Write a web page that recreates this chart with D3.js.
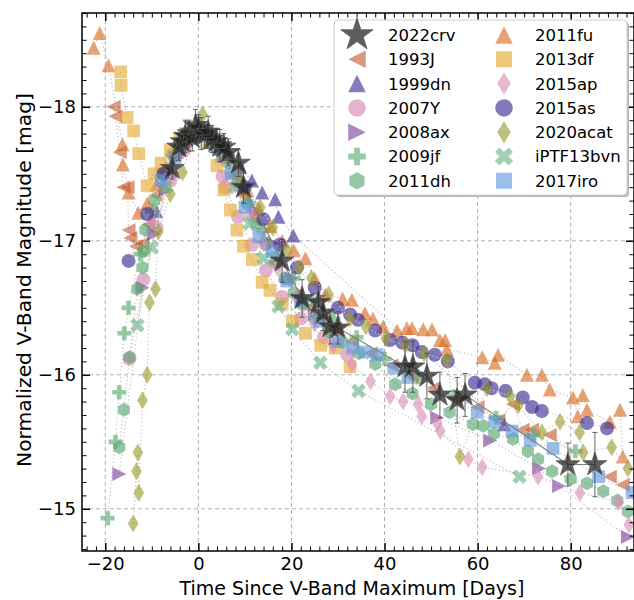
<!DOCTYPE html>
<html>
<head>
<meta charset="utf-8">
<script src="https://cdn.jsdelivr.net/npm/d3@7"></script>
<style>
  body { margin: 0; background: #fff; }
  text { font-family: "DejaVu Sans", sans-serif; }
</style>
</head>
<body>
<svg id="chart" width="634" height="600"></svg>
<script>
// tick values
const xMajor = [-20, 0, 20, 40, 60, 80];
const yMajor = [-18, -17, -16, -15];

// 2022crv (stars, with error bars)
const crvDays = [-5.6, -4.2, -3.5, -2.8, -2.0, -1.3, -0.6, 0.0, 0.6, 1.3, 2.1, 2.9, 3.8, 4.6, 5.5, 6.4, 8.6, 9.7, 18.0, 22.3, 25.8, 26.8, 28.3, 30.0, 44.4, 46.1, 49.1, 51.9, 55.6, 57.3, 79.4, 85.2];
const crvMag = [-17.54, -17.70, -17.74, -17.78, -17.80, -17.77, -17.86, -17.84, -17.80, -17.79, -17.81, -17.76, -17.74, -17.71, -17.70, -17.66, -17.58, -17.40, -16.85, -16.57, -16.54, -16.46, -16.36, -16.35, -16.06, -16.06, -15.99, -15.85, -15.81, -15.85, -15.33, -15.33];
const crvErr = [0.08, 0.10, 0.10, 0.12, 0.10, 0.10, 0.12, 0.10, 0.12, 0.10, 0.12, 0.10, 0.10, 0.12, 0.10, 0.10, 0.10, 0.12, 0.16, 0.14, 0.12, 0.13, 0.13, 0.12, 0.19, 0.19, 0.17, 0.17, 0.17, 0.16, 0.16, 0.24];

const d1993J = [-18.2, -17.8, -16.9, -16.1, -15.2, -15.0, -14.6, -13.4, -12.0, -10.8, -9.2, -7.6, -5.9, -4.1, -2.2, -0.4, 1.6, 3.5, 5.4, 7.4, 9.5, 11.7, 13.9, 16.2, 18.6, 21.1, 23.7, 26.5, 29.6, 33.0, 37.0, 41.5, 46.0, 50.5, 55.0, 60.0, 64.5, 67.6, 69.7, 71.7, 75.5, 88.4, 91.2];
const m1993J = [-18.00, -17.93, -17.66, -17.40, -17.40, -17.08, -17.02, -16.96, -16.98, -17.12, -17.34, -17.52, -17.64, -17.73, -17.79, -17.82, -17.80, -17.74, -17.64, -17.50, -17.34, -17.16, -16.99, -16.84, -16.71, -16.60, -16.50, -16.42, -16.33, -16.25, -16.16, -16.07, -15.98, -15.90, -15.82, -15.76, -15.66, -15.78, -15.59, -15.59, -15.55, -15.24, -15.18];

const d1999dn = [-9.0, -6.0, -3.0, 0.0, 3.0, 6.0, 9.0, 11.5, 13.7, 16.5, 17.2, 20.4, 65.7];
const m1999dn = [-17.22, -17.52, -17.72, -17.81, -17.78, -17.68, -17.55, -17.45, -17.36, -17.31, -17.18, -17.04, -15.63];

const d2007Y = [-14.8, -11.8, -9.0, -6.0, -3.0, 0.0, 3.0, 5.2, 5.8, 8.5, 11.5, 14.5, 18.0, 22.0, 27.0, 32.0];
const m2007Y = [-16.12, -16.71, -17.10, -17.45, -17.68, -17.80, -17.72, -17.48, -17.40, -17.18, -16.97, -16.78, -16.58, -16.42, -16.28, -16.15];

const d2008ax = [-17.0, -12.0, -9.5, -7.0, -4.5, -2.0, 0.5, 3.0, 6.0, 9.0, 12.5, 16.0, 20.0, 25.0, 51.3, 62.7, 73.2, 77.5, 92.3];
const m2008ax = [-15.26, -16.65, -17.05, -17.38, -17.62, -17.76, -17.81, -17.77, -17.63, -17.45, -17.22, -16.98, -16.72, -16.45, -15.68, -15.51, -15.30, -15.17, -14.79];

const d2009jf = [-19.5, -17.8, -17.0, -15.9, -15.0, -12.5, -10.0, -7.5, -5.0, -2.5, 0.0, 2.5, 5.0, 8.0, 11.0, 14.0, 17.0, 20.5, 24.5, 29.0, 34.0, 40.0, 47.0, 55.0, 64.0, 72.0, 81.0];
const m2009jf = [-14.93, -15.50, -15.87, -16.31, -16.50, -16.90, -17.22, -17.48, -17.66, -17.78, -17.82, -17.78, -17.66, -17.48, -17.28, -17.08, -16.90, -16.72, -16.56, -16.42, -16.28, -16.12, -15.98, -15.84, -15.68, -15.55, -15.43];

const d2011dh = [-17.0, -16.0, -14.8, -13.1, -12.0, -11.8, -11.4, -9.5, -7.5, -5.5, -3.5, -1.5, 0.5, 2.5, 4.5, 6.5, 8.5, 10.5, 12.5, 14.5, 16.5, 18.5, 20.5, 22.5, 25.0, 28.0, 31.0, 34.5, 38.0, 42.3, 46.0, 50.0, 54.0, 59.0, 61.2, 63.5, 67.6, 70.8, 73.0, 76.0, 80.0, 83.5, 87.0, 90.0, 92.3];
const m2011dh = [-15.46, -15.74, -16.13, -16.64, -16.80, -16.92, -17.08, -17.30, -17.50, -17.65, -17.75, -17.80, -17.82, -17.78, -17.70, -17.58, -17.44, -17.28, -17.12, -16.97, -16.84, -16.72, -16.61, -16.52, -16.42, -16.32, -16.24, -16.16, -16.08, -15.93, -15.86, -15.78, -15.72, -15.63, -15.62, -15.56, -15.52, -15.43, -15.37, -15.28, -15.22, -15.19, -15.13, -15.06, -14.98];

const d2011fu = [-22.5, -21.2, -19.3, -16.3, -16.2, -15.0, -12.9, -11.0, -9.0, -7.0, -5.0, -3.0, -1.0, 1.0, 3.0, 5.5, 8.0, 10.5, 13.0, 15.5, 18.0, 20.5, 23.0, 25.0, 27.3, 31.0, 33.0, 35.8, 37.5, 39.7, 42.7, 44.8, 45.9, 48.3, 50.2, 51.9, 53.0, 53.4, 61.0, 63.7, 64.4, 70.6, 73.8, 75.5, 80.5, 81.5, 82.6, 83.5, 88.4, 90.6, 91.2];
const m2011fu = [-18.44, -18.55, -18.31, -17.72, -17.57, -17.36, -17.21, -17.28, -17.42, -17.55, -17.66, -17.75, -17.80, -17.81, -17.76, -17.66, -17.52, -17.38, -17.24, -17.11, -17.00, -16.93, -16.87, -16.72, -16.60, -16.57, -16.56, -16.46, -16.42, -16.36, -16.33, -16.35, -16.35, -16.34, -16.34, -16.26, -16.26, -16.19, -16.13, -16.09, -16.15, -16.00, -16.00, -15.89, -15.83, -15.69, -15.85, -15.74, -15.65, -15.74, -15.39];

const d2013df = [-16.7, -16.6, -15.3, -13.9, -12.8, -11.0, -9.5, -8.0, -6.0, -4.0, -2.0, 0.0, 2.0, 4.0, 5.5, 6.9, 8.3, 9.7, 11.6, 13.7, 15.4, 18.0, 20.2, 23.0, 26.3, 29.4, 32.6];
const m2013df = [-18.26, -18.16, -17.92, -17.82, -17.65, -17.41, -17.50, -17.58, -17.68, -17.76, -17.80, -17.80, -17.74, -17.56, -17.38, -17.23, -17.08, -16.96, -16.86, -16.69, -16.63, -16.53, -16.40, -16.31, -16.22, -16.20, -16.06];

const d2015ap = [-10.0, -7.0, -4.0, -1.0, 2.0, 5.0, 8.0, 11.0, 14.0, 17.0, 21.0, 25.0, 29.0, 33.0, 37.0, 41.2, 44.0, 47.2, 48.0, 51.3, 52.0, 58.0, 61.0, 73.0, 82.0, 90.3, 92.5];
const m2015ap = [-17.15, -17.45, -17.70, -17.80, -17.78, -17.62, -17.42, -17.20, -16.98, -16.80, -16.58, -16.38, -16.22, -16.08, -15.95, -15.84, -15.80, -15.78, -15.69, -15.64, -15.58, -15.37, -15.31, -15.24, -15.12, -15.05, -14.88];

const d2015as = [-15.0, -11.0, -7.5, -4.0, -0.5, 3.0, 6.5, 10.0, 14.0, 17.5, 21.2, 25.0, 30.0, 32.6, 34.3, 38.0, 41.2, 43.8, 46.0, 48.0, 50.8, 53.6, 59.4, 61.5, 63.0, 66.0, 69.7, 71.7, 73.8, 83.5, 87.8];
const m2015as = [-16.85, -17.20, -17.50, -17.72, -17.81, -17.78, -17.62, -17.40, -17.16, -16.97, -16.80, -16.65, -16.50, -16.45, -16.41, -16.33, -16.26, -16.24, -16.22, -16.17, -16.15, -16.10, -15.94, -15.93, -15.90, -15.88, -15.83, -15.76, -15.73, -15.64, -15.60];

const d2020acat = [-14.0, -13.3, -13.0, -12.8, -12.0, -11.0, -10.5, -9.2, -8.6, -6.0, -3.4, -1.0, 0.9, 3.0, 6.0, 9.0, 13.3, 16.0, 19.0, 21.7, 24.3, 28.0, 32.6, 36.0, 40.3, 44.5, 48.5, 53.4, 56.2, 62.0, 67.0, 68.7, 73.8, 77.7, 81.9, 82.7, 88.8, 92.3];
const m2020acat = [-14.89, -15.28, -15.42, -15.12, -15.81, -16.00, -16.54, -16.64, -17.07, -17.35, -17.51, -17.78, -17.94, -17.80, -17.62, -17.46, -17.25, -17.10, -16.93, -16.80, -16.72, -16.60, -16.42, -16.36, -16.27, -16.22, -16.16, -16.11, -15.39, -15.90, -15.84, -15.77, -15.57, -15.65, -15.57, -15.42, -15.46, -15.30];

const dPTF = [-13.1, -10.0, -7.0, -4.0, -1.0, 2.0, 5.0, 8.0, 11.0, 14.0, 17.2, 20.2, 26.2, 34.4, 69.0];
const mPTF = [-16.37, -16.95, -17.40, -17.68, -17.80, -17.80, -17.63, -17.40, -17.13, -16.87, -16.51, -16.34, -16.09, -15.88, -15.24];

const d2017iro = [-8.0, -5.0, -2.0, 1.0, 4.0, 7.0, 10.0, 13.0, 15.9, 19.0, 22.0, 26.0, 30.0, 33.2, 35.8, 38.4, 42.0, 45.0, 59.9, 63.7, 67.4, 71.3, 76.2, 86.0, 93.2];
const m2017iro = [-17.45, -17.62, -17.76, -17.80, -17.70, -17.50, -17.25, -17.03, -16.92, -16.70, -16.55, -16.40, -16.25, -16.20, -16.17, -16.15, -16.05, -15.98, -15.72, -15.65, -15.58, -15.51, -15.45, -15.24, -15.12];

const series = [
  { name: "1993J", t: d1993J, m: m1993J, shape: "triLeft", color: "#c55a30" },
  { name: "1999dn", t: d1999dn, m: m1999dn, shape: "triUp", color: "#3a2a95" },
  { name: "2007Y", t: d2007Y, m: m2007Y, shape: "circle", color: "#d584b2" },
  { name: "2008ax", t: d2008ax, m: m2008ax, shape: "triRight", color: "#7c3c9e" },
  { name: "2009jf", t: d2009jf, m: m2009jf, shape: "plus", color: "#56aa6d" },
  { name: "2011dh", t: d2011dh, m: m2011dh, shape: "hexagon", color: "#56a46d" },
  { name: "2011fu", t: d2011fu, m: m2011fu, shape: "triUp", color: "#d86a20" },
  { name: "2013df", t: d2013df, m: m2013df, shape: "square", color: "#e2aa2f" },
  { name: "2015ap", t: d2015ap, m: m2015ap, shape: "diamond", color: "#dc8cb7" },
  { name: "2015as", t: d2015as, m: m2015as, shape: "circle", color: "#352790" },
  { name: "2020acat", t: d2020acat, m: m2020acat, shape: "diamond", color: "#9b9b2f" },
  { name: "iPTF13bvn", t: dPTF, m: mPTF, shape: "xmark", color: "#65b284" },
  { name: "2017iro", t: d2017iro, m: m2017iro, shape: "square", color: "#5d98dc" }
];
const legendCol1 = ["2022crv", "1993J", "1999dn", "2007Y", "2008ax", "2009jf", "2011dh"];
const legendCol2 = ["2011fu", "2013df", "2015ap", "2015as", "2020acat", "iPTF13bvn", "2017iro"];

const svg = d3.select("#chart");
const pL = 82, pR = 634, pT = 13, pB = 551;
const x = d3.scaleLinear().domain([-25, 93.6]).range([pL, pR]);
const y = d3.scaleLinear().domain([-18.7, -14.685]).range([pT, pB]);
const alpha = 0.62;

svg.append("defs").append("clipPath").attr("id", "clip")
  .append("rect").attr("x", pL).attr("y", pT).attr("width", pR - pL).attr("height", pB - pT);

// grid
const grid = svg.append("g").attr("stroke", "#b0b0b0").attr("stroke-width", 1).attr("stroke-dasharray", "4,3");
xMajor.forEach(v => grid.append("line").attr("x1", x(v)).attr("x2", x(v)).attr("y1", pT).attr("y2", pB));
yMajor.forEach(v => grid.append("line").attr("y1", y(v)).attr("y2", y(v)).attr("x1", pL).attr("x2", pR));

function poly(p, pts) {
  p.moveTo(pts[0][0], pts[0][1]);
  for (let i = 1; i < pts.length; i++) p.lineTo(pts[i][0], pts[i][1]);
  p.closePath();
  return p;
}
function shapePath(shape, k) {
  const p = d3.path();
  const s = 7 * k;
  if (shape == "circle") { p.arc(0, 0, s, 0, 2 * Math.PI); }
  else if (shape == "square") { const h = 6.4 * k; p.rect(-h, -h, 2 * h, 2 * h); }
  else if (shape == "triUp") poly(p, [[0, -s], [s, s], [-s, s]]);
  else if (shape == "triLeft") poly(p, [[-s, 0], [s, -s], [s, s]]);
  else if (shape == "triRight") poly(p, [[s, 0], [-s, -s], [-s, s]]);
  else if (shape == "diamond") { const v = 9 * k, h = 5.4 * k; poly(p, [[0, -v], [h, 0], [0, v], [-h, 0]]); }
  else if (shape == "hexagon") {
    const pts = d3.range(6).map(i => [s * Math.cos(-Math.PI / 2 + i * Math.PI / 3), s * Math.sin(-Math.PI / 2 + i * Math.PI / 3)]);
    poly(p, pts);
  }
  else if (shape == "plus" || shape == "xmark") {
    const a = s / 3;
    let pts = [[-a, -s], [a, -s], [a, -a], [s, -a], [s, a], [a, a], [a, s], [-a, s], [-a, a], [-s, a], [-s, -a], [-a, -a]];
    if (shape == "xmark") {
      const c = Math.SQRT1_2 * 1.1;
      pts = pts.map(([px, py]) => [(px - py) * c, (px + py) * c]);
    }
    poly(p, pts);
  }
  return p.toString();
}
const starPath = r => d3.symbol().type(d3.symbolStar).size(r * r / 0.8908130915)();

const plot = svg.append("g").attr("clip-path", "url(#clip)");
const dotted = d3.line().x(d => x(d[0])).y(d => y(d[1]));

series.forEach(s => {
  const pts = s.t.map((t, i) => [t, s.m[i]]);
  plot.append("path").datum(pts).attr("d", dotted)
    .attr("fill", "none").attr("stroke", "#c4c4c4").attr("stroke-width", 1.2)
    .attr("stroke-dasharray", "1.3,2.4");
  plot.append("g").selectAll("path").data(pts).join("path")
    .attr("transform", d => `translate(${x(d[0])},${y(d[1])})`)
    .attr("d", shapePath(s.shape, 1))
    .attr("fill", s.color).attr("fill-opacity", alpha);
});

// 2022crv
const crv = crvDays.map((t, i) => [t, crvMag[i], crvErr[i]]);
plot.append("path").datum(crv).attr("d", dotted)
  .attr("fill", "none").attr("stroke", "#808080").attr("stroke-width", 1.1);
const eb = plot.append("g").attr("stroke", "#4a4a4a").attr("stroke-opacity", 0.85).attr("stroke-width", 1);
crv.forEach(d => {
  const cx = x(d[0]);
  eb.append("line").attr("x1", cx).attr("x2", cx).attr("y1", y(d[1] - d[2])).attr("y2", y(d[1] + d[2]));
  eb.append("line").attr("x1", cx - 2.5).attr("x2", cx + 2.5).attr("y1", y(d[1] - d[2])).attr("y2", y(d[1] - d[2]));
  eb.append("line").attr("x1", cx - 2.5).attr("x2", cx + 2.5).attr("y1", y(d[1] + d[2])).attr("y2", y(d[1] + d[2]));
});
plot.append("g").selectAll("path").data(crv).join("path")
  .attr("transform", d => `translate(${x(d[0])},${y(d[1])})`)
  .attr("d", starPath(12.5))
  .attr("fill", "#1e1e1e").attr("fill-opacity", 0.72)
  .attr("stroke", "#555").attr("stroke-width", 0.8);

// axes (ticks inward on all sides)
function styleAxis(g) {
  g.select(".domain").remove();
  g.selectAll("line").attr("stroke", "#000");
  g.selectAll("text").attr("font-size", 18).attr("fill", "#000").attr("font-family", "DejaVu Sans, sans-serif");
}
const xMinor = d3.range(-24, 94, 2).filter(v => v % 20 != 0);
const yMinor = d3.range(-187, -146).map(v => v / 10).filter(v => Math.abs(v - Math.round(v)) > 0.01);
const majorLen = 8, minorLen = 4.5;

svg.append("g").attr("transform", `translate(0,${pB})`)
  .call(d3.axisBottom(x).tickValues(xMajor).tickSize(-majorLen).tickPadding(6).tickFormat(d3.format("d")))
  .call(styleAxis).selectAll("line").attr("stroke-width", 1.5);
svg.append("g").attr("transform", `translate(0,${pB})`)
  .call(d3.axisBottom(x).tickValues(xMinor).tickSize(-minorLen).tickFormat(""))
  .call(styleAxis);
svg.append("g").attr("transform", `translate(0,${pT})`)
  .call(d3.axisTop(x).tickValues(xMajor).tickSize(-majorLen).tickFormat(""))
  .call(styleAxis).selectAll("line").attr("stroke-width", 1.5);
svg.append("g").attr("transform", `translate(0,${pT})`)
  .call(d3.axisTop(x).tickValues(xMinor).tickSize(-minorLen).tickFormat(""))
  .call(styleAxis);
svg.append("g").attr("transform", `translate(${pL},0)`)
  .call(d3.axisLeft(y).tickValues(yMajor).tickSize(-majorLen).tickPadding(6).tickFormat(d3.format("d")))
  .call(styleAxis).selectAll("line").attr("stroke-width", 1.5);
svg.append("g").attr("transform", `translate(${pL},0)`)
  .call(d3.axisLeft(y).tickValues(yMinor).tickSize(-minorLen).tickFormat(""))
  .call(styleAxis);
svg.append("g").attr("transform", `translate(${pR},0)`)
  .call(d3.axisRight(y).tickValues(yMajor).tickSize(-majorLen).tickFormat(""))
  .call(styleAxis).selectAll("line").attr("stroke-width", 1.5);
svg.append("g").attr("transform", `translate(${pR},0)`)
  .call(d3.axisRight(y).tickValues(yMinor).tickSize(-minorLen).tickFormat(""))
  .call(styleAxis);

svg.append("rect").attr("x", pL).attr("y", pT).attr("width", pR - pL).attr("height", pB - pT)
  .attr("fill", "none").attr("stroke", "#000").attr("stroke-width", 1.5);

svg.append("text").attr("x", 352).attr("y", 595).attr("text-anchor", "middle")
  .attr("font-size", 19).text("Time Since V-Band Maximum [Days]");
svg.append("text").attr("transform", "translate(31,280) rotate(-90)").attr("text-anchor", "middle")
  .attr("font-size", 20.3).text("Normalized V-Band Magnitude [mag]");

// legend
const lg = svg.append("g");
lg.append("rect").attr("x", 336).attr("y", 22).attr("width", 293).attr("height", 175).attr("rx", 4)
  .attr("fill", "#b8b8b8");
lg.append("rect").attr("x", 334).attr("y", 20).attr("width", 293).attr("height", 175).attr("rx", 4)
  .attr("fill", "#fff").attr("stroke", "#d0d0d0").attr("stroke-width", 1);
const cols = [[legendCol1, 357, 388], [legendCol2, 504, 535]];
cols.forEach(([names, mx, tx]) => {
  names.forEach((nm, i) => {
    const cy = 35 + i * 24.3;
    if (nm == "2022crv") {
      lg.append("path").attr("transform", `translate(${mx},${cy})`).attr("d", starPath(17))
        .attr("fill", "#1e1e1e").attr("fill-opacity", 0.72).attr("stroke", "#555").attr("stroke-width", 0.8);
    } else {
      const s = series.find(d => d.name == nm);
      lg.append("path").attr("transform", `translate(${mx},${cy})`).attr("d", shapePath(s.shape, 1.25))
        .attr("fill", s.color).attr("fill-opacity", alpha);
    }
    lg.append("text").attr("x", tx).attr("y", cy).attr("dy", "0.36em").attr("font-size", 16.5).text(nm);
  });
});
</script>
</body>
</html>
